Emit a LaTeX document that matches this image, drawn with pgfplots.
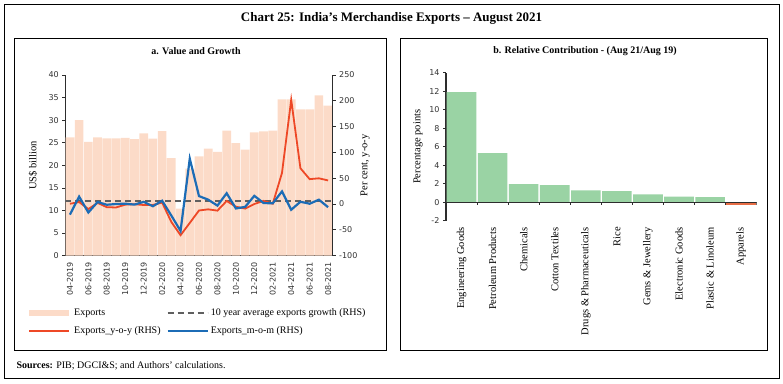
\documentclass[border=0pt]{standalone}
\usepackage{fontspec}
\setmainfont{Liberation Serif}
\newfontfamily\tickfont{DejaVu Sans}
\usepackage{pgfplots}
\pgfplotsset{compat=1.18}
\definecolor{peach}{RGB}{252,219,200}
\definecolor{yoyred}{RGB}{238,72,38}
\definecolor{momblue}{RGB}{28,108,182}
\definecolor{avggray}{RGB}{95,95,95}
\definecolor{barg}{RGB}{154,211,164}
\definecolor{appcol}{RGB}{232,110,70}
\definecolor{axcol}{RGB}{45,45,45}
\definecolor{tickcol}{RGB}{50,50,50}

\pgfplotstableread{
x val yoy mom
0 26.2 0.6 -20.5
1 30.0 3.9 14.5
2 25.2 -9.7 -16.3
3 26.2 2.3 4.0
4 26.0 -6.0 -1.3
5 26.0 -6.6 0.1
6 26.1 -1.1 0.8
7 25.8 -0.3 -1.0
8 27.1 -1.8 4.3
9 25.9 -1.7 -4.2
10 27.6 2.9 6.5
11 21.6 -34.6 -22.3
12 10.4 -60.3 -52.0
13 19.3 -36.5 88.0
14 22.0 -12.4 15.5
15 23.7 -10.2 8.5
16 23.0 -12.7 -3.0
17 27.7 6.0 21.0
18 24.9 -5.1 -8.5
19 23.5 -8.7 -5.5
20 27.3 0.1 16.0
21 27.5 6.2 2.0
22 27.7 0.7 1.5
23 34.6 60.3 24.5
24 34.6 202.0 -11.0
25 32.4 69.4 4.5
26 32.4 48.3 0.7
27 35.5 49.9 8.5
28 33.2 45.8 -6.0
}\exports

\pgfplotstableread{
x val
0 11.9
1 5.3
2 1.95
3 1.85
4 1.3
5 1.2
6 0.85
7 0.6
8 0.55
}\contrib

\pgfplotsset{
  common/.style={
    scale only axis,
    /pgf/number format/assume math mode=true,
    tick label style={font=\tickfont\fontsize{8}{9}\selectfont, text=tickcol},
    label style={font=\fontsize{10.5}{12}\selectfont},
    axis line style={line width=1.3pt, color=axcol},
    tick style={line width=0.8pt, color=axcol},
    major tick length=3pt, minor tick length=3pt,
    tick align=outside,
  }
}

\begin{document}
\begin{tikzpicture}
\useasboundingbox (0pt,0pt) rectangle (783pt,-383pt);
\draw[line width=0.9pt] (4pt,-4pt) rectangle (779pt,-378pt);
\draw[line width=0.9pt] (14pt,-38pt) rectangle (386pt,-350pt);
\draw[line width=0.9pt] (400pt,-38pt) rectangle (767pt,-350pt);
\node[font=\bfseries\fontsize{13}{15}\selectfont] at (391.5pt,-18pt) {Chart 25: India's Merchandise Exports -- August 2021};
\node[font=\bfseries\fontsize{10}{12}\selectfont] at (196pt,-51pt) {a. Value and Growth};
\node[font=\bfseries\fontsize{10}{12}\selectfont] at (585pt,-51pt) {b. Relative Contribution - (Aug 21/Aug 19)};
\node[anchor=west, font=\fontsize{10}{12}\selectfont] at (13pt,-366pt) {\textbf{Sources:} PIB; DGCI\&S; and Authors' calculations.};

% Panel a: bars (LHS)
\begin{axis}[common,
  at={(65.3pt,-255.7pt)}, anchor=south west,
  width=267.4pt, height=180.7pt,
  xmin=-0.5, xmax=28.5, ymin=0, ymax=40,
  axis x line*=bottom, axis y line*=left,
  ytick={0,5,...,40},
  xtick={0,2,...,28},
  xticklabels={04-2019,06-2019,08-2019,10-2019,12-2019,02-2020,04-2020,06-2020,08-2020,10-2020,12-2020,02-2021,04-2021,06-2021,08-2021},
  x tick label style={rotate=90, anchor=east},
  xtick style={draw=none},
  minor xtick={-0.5,1.5,...,27.5},
  minor tick style={line width=0.8pt, color=axcol},
  ylabel={US\$ billion},
  ylabel style={at={(axis description cs:-0.121,0.5)}, anchor=center},
]
\addplot[ybar, bar width=8.7pt, fill=peach, draw=none] table[x=x, y=val] {\exports};
\end{axis}

% Panel a: lines (RHS)
\begin{axis}[common,
  at={(65.3pt,-255.7pt)}, anchor=south west,
  width=267.4pt, height=180.7pt,
  xmin=-0.5, xmax=28.5, ymin=-100, ymax=250,
  axis x line=none, axis y line*=right,
  ytick={-100,-50,...,250},
  ylabel={Per cent, y-o-y},
  ylabel style={at={(axis description cs:1.121,0.5)}, anchor=center, rotate=0},
  legend columns=2,
  legend cell align=left,
  legend style={draw=none, fill=none, at={(-0.158,-0.272)}, anchor=north west,
    font=\fontsize{10}{12}\selectfont, row sep=5pt,
    /tikz/every even column/.append style={column sep=4pt}},
  legend image code/.code={\draw[#1] (0pt,0pt) -- (40pt,0pt);},
]
\addlegendimage{peach, line width=6pt}
\addlegendentry{Exports}
\addplot[avggray, line width=2pt, dash pattern=on 6pt off 4pt] coordinates {(-0.5,6) (28.5,6)};
\addlegendentry{10 year average exports growth (RHS)}
\addplot[yoyred, line width=1.8pt, no marks] table[x=x, y=yoy] {\exports};
\addlegendentry{Exports\_y-o-y (RHS)}
\addplot[momblue, line width=2.2pt, no marks] table[x=x, y=mom] {\exports};
\addlegendentry{Exports\_m-o-m (RHS)}
\end{axis}

% Panel b
\begin{axis}[common,
  at={(446pt,-220.8pt)}, anchor=south west,
  width=310.7pt, height=148.1pt,
  xmin=-0.5, xmax=9.5, ymin=-2, ymax=14,
  axis x line*=bottom, axis y line*=left,
  x axis line style={draw=none},
  ytick={-2,0,...,14},
  xtick={0,...,9},
  xticklabels={Engineering Goods,Petroleum Products,Chemicals,Cotton Textiles,Drugs \& Pharmaceuticals,Rice,Gems \& Jewellery,Electronic Goods,Plastic \& Linoleum,Apparels},
  x tick label style={rotate=90, anchor=east, font=\fontsize{10.5}{12}\selectfont, text=black},
  xtick style={draw=none},
  ylabel={Percentage points},
  ylabel style={at={(axis description cs:-0.09,0.5)}, anchor=center},
]
\addplot[ybar, bar width=29.6pt, bar shift=0pt, fill=barg, draw=none] table[x=x, y=val] {\contrib};
\addplot[ybar, bar width=29.6pt, bar shift=0pt, fill=appcol, draw=none] coordinates {(9,-0.3)};
\draw[line width=1.3pt, color=axcol] (axis cs:-0.5,0) -- (axis cs:9.5,0);
\pgfplotsinvokeforeach{0.5,1.5,2.5,3.5,4.5,5.5,6.5,7.5,8.5,9.5}{
  \draw[line width=0.8pt, color=axcol] (axis cs:#1,0) -- ++(0pt,-3pt);
}
\end{axis}
\end{tikzpicture}
\end{document}
